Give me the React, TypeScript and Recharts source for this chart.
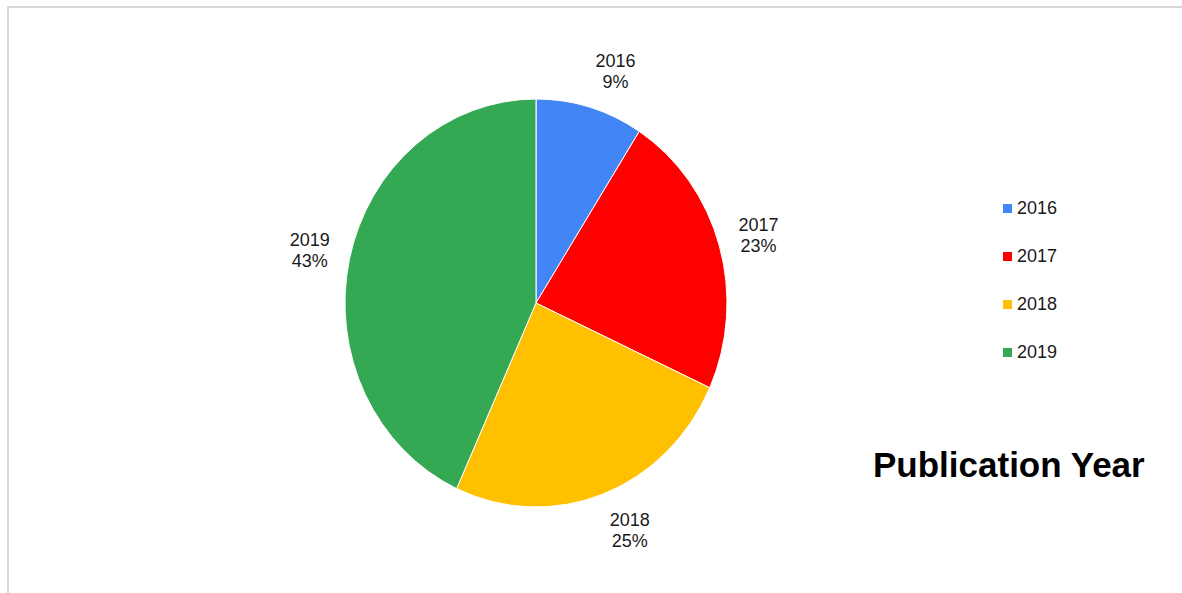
import React from "react";
import { PieChart, Pie, Cell, Legend } from "recharts";

// publication counts per year (percentages in labels come from these)
const years = ["2016", "2017", "2018", "2019"];
const counts = [4, 10, 11, 19];
const colors = ["#4285F4", "#FF0000", "#FFC000", "#34A853"];

const data = years.map((y, i) => ({ name: y, value: counts[i] }));

// the original pie is a bit taller than wide
const Y_STRETCH = 204 / 191;
const RAD = Math.PI / 180;

const EllipseSector = (props: any) => {
  const { cx, cy, outerRadius, startAngle, endAngle, fill } = props;
  const rx = outerRadius;
  const ry = outerRadius * Y_STRETCH;
  const x1 = cx + rx * Math.cos(startAngle * RAD);
  const y1 = cy - ry * Math.sin(startAngle * RAD);
  const x2 = cx + rx * Math.cos(endAngle * RAD);
  const y2 = cy - ry * Math.sin(endAngle * RAD);
  const large = Math.abs(endAngle - startAngle) > 180 ? 1 : 0;
  const sweep = endAngle < startAngle ? 1 : 0;
  const d = `M${cx},${cy} L${x1},${y1} A${rx},${ry} 0 ${large} ${sweep} ${x2},${y2} Z`;
  return <path d={d} fill={fill} stroke="#fff" strokeWidth={1} />;
};

// label block: two centred lines, placed just outside the rim
const renderLabel = (props: any) => {
  const { cx, cy, midAngle, outerRadius, name, percent } = props;
  const off = 20;
  const halfW = 20;
  const c = Math.cos(midAngle * RAD);
  const s = Math.sin(midAngle * RAD);
  const px = cx + (outerRadius + off) * c;
  const py = cy - (outerRadius * Y_STRETCH + off) * s;
  const mx = c > 0.15 ? px + halfW : c < -0.15 ? px - halfW : px;
  let top = py - 22;
  if (s > 0.5) top = py - 34;
  else if (s < -0.5) top = py;
  return (
    <text
      x={mx}
      textAnchor="middle"
      fontSize={18}
      fill="#1a1a1a"
      fontFamily="'Liberation Sans', Arial, sans-serif"
    >
      <tspan x={mx} y={top + 13}>{name}</tspan>
      <tspan x={mx} y={top + 34}>{`${Math.round(percent * 100)}%`}</tspan>
    </text>
  );
};

const LegendBox = () => (
  <div style={{ fontFamily: "'Liberation Sans', Arial, sans-serif" }}>
    {years.map((y, i) => (
      <div
        key={y}
        style={{ display: "flex", alignItems: "center", height: 48 }}
      >
        <span
          style={{
            width: 9,
            height: 9,
            background: colors[i],
            marginRight: 5,
            display: "inline-block",
          }}
        />
        <span style={{ fontSize: 18, color: "#1a1a1a" }}>{y}</span>
      </div>
    ))}
  </div>
);

export default function App() {
  return (
    <div
      style={{
        position: "absolute",
        left: 0,
        top: 0,
        width: 1182,
        height: 593,
        background: "#fff",
        overflow: "hidden",
      }}
    >
      <div
        style={{
          position: "absolute",
          left: 7,
          top: 6,
          width: 1200,
          height: 620,
          borderTop: "2px solid #d9d9d9",
          borderLeft: "2px solid #d9d9d9",
        }}
      />
      <PieChart
        width={1182}
        height={593}
        margin={{ top: 0, right: 0, bottom: 0, left: 0 }}
        style={{ position: "absolute", left: 0, top: 0 }}
      >
        <Pie
          data={data}
          dataKey="value"
          nameKey="name"
          cx={536}
          cy={303}
          outerRadius={191}
          startAngle={90}
          endAngle={-270}
          shape={EllipseSector}
          label={renderLabel}
          labelLine={false}
          isAnimationActive={false}
        >
          {data.map((d, i) => (
            <Cell key={d.name} fill={colors[i]} />
          ))}
        </Pie>
        <Legend
          layout="vertical"
          content={<LegendBox />}
          wrapperStyle={{ position: "absolute", left: 1003, top: 184, width: 100 }}
        />
      </PieChart>
      <svg
        width={1182}
        height={593}
        style={{ position: "absolute", left: 0, top: 0, pointerEvents: "none" }}
      >
        <text
          x={873}
          y={477}
          fontSize={35}
          fontWeight="bold"
          fill="#000"
          fontFamily="'Liberation Sans', Arial, sans-serif"
        >
          Publication Year
        </text>
      </svg>
    </div>
  );
}
